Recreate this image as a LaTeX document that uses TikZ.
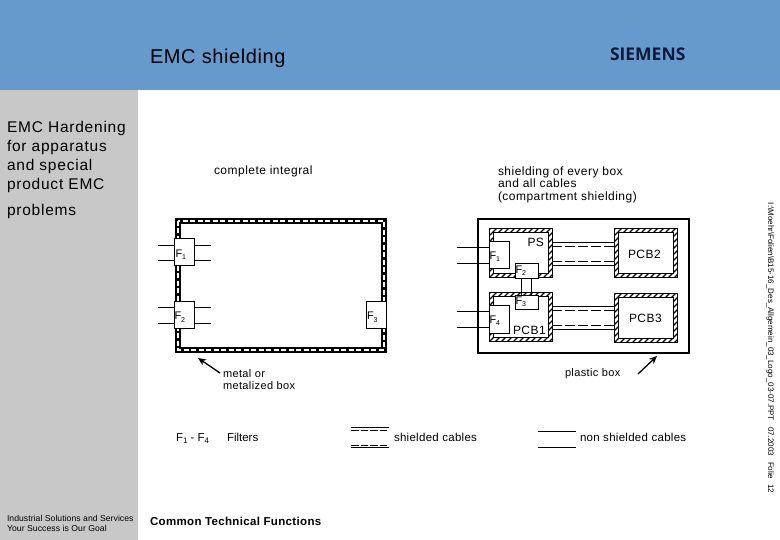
\documentclass[tikz,border=0pt]{standalone}
\usepackage{fontspec}
\setmainfont{Liberation Sans}
\newfontfamily\logofont{Open Sans}
\usetikzlibrary{arrows.meta}
\definecolor{bandblue}{HTML}{6699CC}
\definecolor{sidegray}{HTML}{C8C8C8}
\definecolor{logonavy}{HTML}{0B1A3A}
\newcommand{\fs}[1]{\fontsize{#1}{#1}\selectfont}
\newcommand{\ls}[1]{\addfontfeature{LetterSpace=#1}}
\newcommand{\hatchedbox}[5]{%
  \node[wallbox,minimum width={#4-#2},minimum height={#5-#3}] (#1) at ({(#2+#4)/2},{(#3+#5)/2}) {};
  \begin{scope}[even odd rule]
    \clip (#2,#3) rectangle (#4,#5) ({#2+4},{#3+4}) rectangle ({#4-4},{#5-4});
    \foreach \h in {0,6,...,130} {\draw[line width=1.4pt] ({#2-55+\h},{#5+1}) -- ++(70,-70);}
  \end{scope}
  \draw[line width=1pt] (#2,#3) rectangle (#4,#5);
  \draw[line width=1pt] ({#2+4},{#3+4}) rectangle ({#4-4},{#5-4});
}
\tikzset{
  x=1pt,y=-1pt,
  txt/.style={inner sep=0pt,outer sep=0pt,anchor=base west,align=left},
  lab/.style={txt,font=\fs{12}\ls{4}},
  small/.style={txt,font=\fs{11}\ls{3.5}},
  big/.style={txt,font=\fs{15.5}\ls{5}},
  filt/.style={draw,fill=white,line width=0.8pt,minimum width=0pt,minimum height=0pt,inner sep=0pt,outer sep=0pt},
  wallbox/.style={inner sep=0pt,outer sep=0pt,rectangle},
  wire/.style={line width=0.8pt},
  dashwire/.style={line width=0.8pt,dash pattern=on 10pt off 3pt},
  legdash/.style={line width=0.8pt,dash pattern=on 7.5pt off 2pt},
  pointer/.style={line width=1.3pt,-{Stealth[length=8pt,width=7pt]}},
  sidetxt/.style={txt,font=\fs{8},rotate=-90},
}
\begin{document}
\begin{tikzpicture}
\useasboundingbox (0,0) rectangle (780,540);
\fill[white] (0,0) rectangle (780,540);
\fill[bandblue] (0,0) rectangle (780,90);
\fill[sidegray] (0,90) rectangle (138,540);

\node[txt,font=\fs{20}\ls{3}] (title) at (150,64) {EMC shielding};
\node[txt,font=\logofont\bfseries\fs{17.5},text=logonavy] (logo) at (610,61) {SIEMENS};

\node[big] (side1) at (7,132.5) {EMC Hardening};
\node[big] (side2) at (7,151.5) {for apparatus};
\node[big] (side3) at (7,170.5) {and special};
\node[big] (side4) at (7,189.5) {product EMC};
\node[big] (side5) at (7,216) {problems};
\node[txt,font=\fs{8.6}\ls{0.7}] (foot1) at (7,521) {Industrial Solutions and Services};
\node[txt,font=\fs{8.6}\ls{1}] (foot2) at (7,531) {Your Success is Our Goal};
\node[txt,font=\bfseries\fs{11.5}\ls{3}] (foot3) at (150,525) {Common Technical Functions};

\node[lab] (h1) at (214,175) {complete integral};
\node[lab] (h2a) at (498,176) {shielding of every box};
\node[lab] (h2b) at (498,188) {and all cables};
\node[lab] (h2c) at (498,201) {(compartment shielding)};

\node[sidetxt] (path) at (768,203) {I:\textbackslash Moehr\textbackslash Folien\textbackslash B15-16\_Des\_Allgemein\_03\_Logo\_03-07.PPT};
\node[sidetxt] (date) at (768,427) {07.2003};
\node[sidetxt] (folie) at (768,462) {Folie};
\node[sidetxt] (fnum) at (768,484) {12};

% left metal box
\node[wallbox,minimum width=206,minimum height=129] (mbox) at (280.5,285.5) {};
\draw[line width=6pt] (mbox.north west) rectangle (mbox.south east);
\draw[white,line width=2pt,dash pattern=on 5pt off 2.5pt] (mbox.north west) rectangle (mbox.south east);

\node[filt,minimum width=20,minimum height=27] (LF1) at (184,251.5) {};
\node[filt,minimum width=20,minimum height=27] (LF2) at (184,314.5) {};
\node[filt,minimum width=20,minimum height=27] (LF3) at (376,314.5) {};
\node[txt,font=\fs{11}] at (175.5,258) {F\raisebox{-2pt}{\fs{7}1}};
\node[txt,font=\fs{11}] at (174.5,320) {F\raisebox{-2pt}{\fs{7}2}};
\node[txt,font=\fs{11}] at (367,320) {F\raisebox{-2pt}{\fs{7}3}};
\coordinate (a1) at (158,245); \coordinate (a2) at (158,260);
\coordinate (a3) at (158,307.5); \coordinate (a4) at (158,323);
\coordinate (b1) at (211,245); \coordinate (b2) at (211,260);
\coordinate (b3) at (211,307.5); \coordinate (b4) at (211,323);
\foreach \s/\e/\f in {a1/b1/LF1,a2/b2/LF1,a3/b3/LF2,a4/b4/LF2}{
  \draw[wire] (\s) -- (\s -| \f.west);
  \draw[wire] (\e -| \f.east) -- (\e);
}
\node[small] (mlab1) at (223,377.5) {metal or};
\node[small] (mlab2) at (223,389.5) {metalized box};
\coordinate (marrow) at (198,358);
\coordinate (mstart) at (220,373);
\draw[pointer] (mstart) -- (marrow);

% plastic box
\node[draw,line width=2pt,minimum width=211,minimum height=134,inner sep=0pt,outer sep=0pt] (pbox) at (583.5,286) {};

\hatchedbox{ps}{489}{229}{552}{278}
\hatchedbox{pcbone}{489}{293}{552}{342}
\hatchedbox{pcbtwo}{614}{229}{677}{278}
\hatchedbox{pcbthree}{614}{294}{677}{343}

\foreach \y/\st in {242.3/wire,246/dashwire,261.7/dashwire,265/wire}{
  \draw[\st] (ps.east |- 0,\y) -- (pcbtwo.west |- 0,\y);
}
\foreach \y/\st in {306.7/wire,310.7/dashwire,325.3/dashwire,329.3/wire}{
  \draw[\st] (pcbone.east |- 0,\y) -- (pcbthree.west |- 0,\y);
}

\node[filt,minimum width=20,minimum height=27] (RF1) at (499,254.5) {};
\node[filt,minimum width=20,minimum height=28] (RF4) at (499,319) {};
\node[filt,minimum width=23,minimum height=15] (RF2) at (526.5,270.5) {};
\node[filt,minimum width=23,minimum height=14] (RF3) at (526.5,302) {};
\node[txt,font=\fs{11}] at (489.5,259.5) {F\raisebox{-2pt}{\fs{7}1}};
\node[txt,font=\fs{11}] at (489.5,323.5) {F\raisebox{-2pt}{\fs{7}4}};
\node[txt,font=\fs{11}] at (515.5,274) {F\raisebox{-2pt}{\fs{7}2}};
\node[txt,font=\fs{11}] at (515.5,305) {F\raisebox{-2pt}{\fs{7}3}};
\coordinate (c1) at (457,247); \coordinate (c2) at (457,263);
\coordinate (c3) at (457,311); \coordinate (c4) at (457,327);
\foreach \s/\f in {c1/RF1,c2/RF1,c3/RF4,c4/RF4}{ \draw[wire] (\s) -- (\s -| \f.west); }
\draw[wire] (RF2.south -| 521,0) -- (RF3.north -| 521,0);
\draw[wire] (RF2.south -| 531,0) -- (RF3.north -| 531,0);

\node[lab] (pslab) at (527.5,247) {PS};
\node[lab] (l2) at (628,259) {PCB2};
\node[lab] (l3) at (629,323) {PCB3};
\node[lab] (l1) at (513,335) {PCB1};

\node[small] (plab) at (565,377) {plastic box};
\coordinate (parrow) at (657,356);
\coordinate (pstart) at (638,374);
\draw[pointer] (pstart) -- (parrow);

% legend
\node[txt,font=\fs{11.5}] (leg1) at (176,441) {F\raisebox{-2.5pt}{\fs{8}1} - F\raisebox{-2.5pt}{\fs{8}4}};
\node[txt,font=\fs{11.5}] (leg2) at (227,441) {Filters};
\node[txt,font=\fs{11.5}\ls{2.5}] (leg3) at (394,441) {shielded cables};
\node[txt,font=\fs{11.5}\ls{2.5}] (leg4) at (580,441) {non shielded cables};
\coordinate (s1) at (351,427); \coordinate (s2) at (389,427);
\coordinate (s3) at (351,430); \coordinate (s4) at (389,430);
\coordinate (s5) at (351,445); \coordinate (s6) at (389,445);
\coordinate (s7) at (351,447.5); \coordinate (s8) at (389,447.5);
\coordinate (n1) at (538,431); \coordinate (n2) at (576,431);
\coordinate (n3) at (538,447); \coordinate (n4) at (576,447);
\draw[wire] (s1) -- (s2);
\draw[legdash] (s3) -- (s4);
\draw[legdash] (s5) -- (s6);
\draw[wire] (s7) -- (s8);
\draw[wire] (n1) -- (n2);
\draw[wire] (n3) -- (n4);
\end{tikzpicture}
\end{document}
